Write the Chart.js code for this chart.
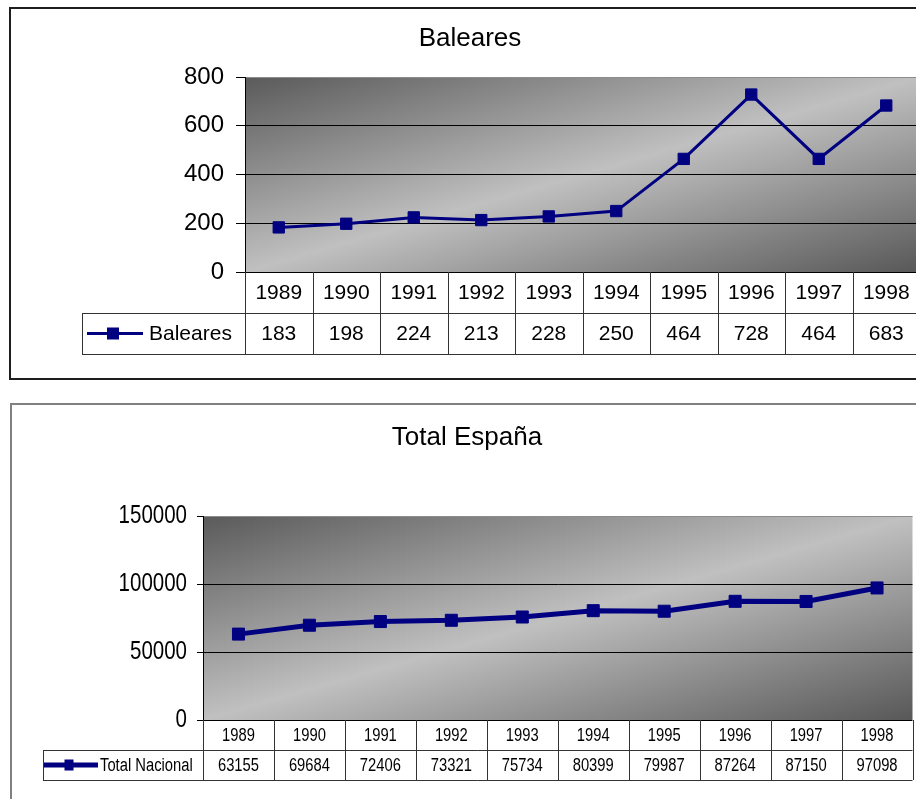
<!DOCTYPE html>
<html>
<head>
<meta charset="utf-8">
<script src="https://cdn.jsdelivr.net/npm/chart.js@4/dist/chart.umd.min.js"></script>
<style>
  body { margin: 0; background: #fff; overflow: hidden; width: 916px; height: 799px; position: relative; }
  .marco { position: absolute; box-sizing: border-box; background: #fff; }
  #marcoBal { left: 9px; top: 7px; width: 1000px; height: 373px; border: 2px solid #1e1e1e; }
  #marcoEsp { left: 10px; top: 403px; width: 1000px; height: 430px; border: 2px solid #808080; }
  canvas { display: block; }
</style>
</head>
<body>
<div class="marco" id="marcoBal"><canvas id="grafBal" width="918" height="369"></canvas></div>
<div class="marco" id="marcoEsp"><canvas id="grafEsp" width="910" height="394"></canvas></div>
<script>
// Datos
const anios = ['1989', '1990', '1991', '1992', '1993', '1994', '1995', '1996', '1997', '1998'];
const baleares = [183, 198, 224, 213, 228, 250, 464, 728, 464, 683];
const totalNacional = [63155, 69684, 72406, 73321, 75734, 80399, 79987, 87264, 87150, 97098];
const ticksBal = [0, 200, 400, 600, 800];
const ticksEsp = [0, 50000, 100000, 150000];

const AZUL = '#000080';
// el título usa la familia con "Arial"; el resto del texto estrecho usa la otra
const ARIAL = '"Liberation Sans", Arial, sans-serif';
const ESTRECHA = '"Liberation Sans", sans-serif';

// Fondo gris degradado (oscuro en las esquinas, claro en la diagonal)
const fondoDegradado = {
    id: 'fondoDegradado',
    beforeDraw(chart) {
        const {ctx, chartArea: a} = chart;
        const w = a.right - a.left;
        const h = a.bottom - a.top;
        const k = 2 * w * h / (w * w + h * h);
        const g = ctx.createLinearGradient(a.left, a.top, a.left + h * k, a.top + w * k);
        g.addColorStop(0, '#5a5a5a');
        g.addColorStop(0.5, '#c0c0c0');
        g.addColorStop(1, '#585858');
        ctx.save();
        ctx.fillStyle = g;
        ctx.fillRect(a.left, a.top, w, h);
        ctx.restore();
    }
};

// Comprime el texto en horizontal (tipo Arial Narrow) salvo el título
const textoEstrecho = factor => ({
    id: 'textoEstrecho',
    beforeInit(chart) {
        const ctx = chart.ctx;
        const original = ctx.fillText;
        ctx.fillText = function (texto, x, y, maxW) {
            if (this.font.indexOf('Arial') >= 0) {
                return original.call(this, texto, x, y, maxW);
            }
            this.save();
            this.translate(x, y);
            this.scale(factor, 1);
            original.call(this, texto, 0, 0);
            this.restore();
        };
    }
});

// Tabla de datos bajo el eje X, con la leyenda en la primera celda
const tablaDatos = {
    id: 'tablaDatos',
    afterDraw(chart, args, opts) {
        const {ctx, chartArea: a, scales: {x}} = chart;
        const ds = chart.data.datasets[0];
        const n = chart.data.labels.length;
        const ancho = (a.right - a.left) / n;
        const y0 = Math.round(a.bottom);
        const y1 = y0 + opts.altoFila;
        const y2 = y1 + opts.altoFila;
        const ley = opts.leyenda;

        ctx.save();
        ctx.strokeStyle = opts.colorLinea;
        ctx.lineWidth = 1;
        ctx.beginPath();
        ctx.moveTo(ley.izq, y1 + 0.5);
        ctx.lineTo(a.right, y1 + 0.5);
        ctx.moveTo(ley.izq, y2 + 0.5);
        ctx.lineTo(a.right, y2 + 0.5);
        ctx.moveTo(ley.izq + 0.5, y1);
        ctx.lineTo(ley.izq + 0.5, y2);
        for (let i = 0; i <= n; i++) {
            const xb = Math.round(x.getPixelForValue(0) - ancho / 2 + i * ancho) + 0.5;
            ctx.moveTo(xb, y0);
            ctx.lineTo(xb, y2);
        }
        ctx.stroke();

        // textos de años y valores
        ctx.fillStyle = '#000';
        ctx.font = opts.fuente;
        ctx.textAlign = 'center';
        ctx.textBaseline = 'middle';
        chart.data.labels.forEach((lab, i) => {
            const xc = x.getPixelForValue(i);
            ctx.fillText(lab, xc, (y0 + y1) / 2 + 1);
            ctx.fillText(String(ds.data[i]), xc, (y1 + y2) / 2 + 1);
        });

        // leyenda: línea con marcador cuadrado y nombre de la serie
        const ym = (y1 + y2) / 2;
        ctx.strokeStyle = ds.borderColor;
        ctx.lineWidth = ley.grosor;
        ctx.beginPath();
        ctx.moveTo(ley.x1, ym);
        ctx.lineTo(ley.x2, ym);
        ctx.stroke();
        ctx.fillStyle = ds.borderColor;
        ctx.fillRect(ley.xm - ley.ancho / 2, ym - ley.alto / 2, ley.ancho, ley.alto);
        ctx.fillStyle = '#000';
        ctx.textAlign = 'left';
        ctx.fillText(ds.label, ley.xt, ym + 1);
        ctx.restore();
    }
};

function crearGrafico(id, cfg) {
    return new Chart(document.getElementById(id), {
        type: 'line',
        data: {
            labels: anios,
            datasets: [{
                label: cfg.serie,
                data: cfg.valores,
                borderColor: AZUL,
                backgroundColor: AZUL,
                borderWidth: cfg.grosor,
                tension: 0,
                pointStyle: 'rect',
                pointRadius: cfg.radio,
                pointBackgroundColor: AZUL,
                pointBorderColor: AZUL,
                pointBorderWidth: 1
            }]
        },
        options: {
            responsive: false,
            animation: false,
            layout: {padding: 0},
            plugins: {
                legend: {display: false},
                tooltip: {enabled: false},
                title: {
                    display: true,
                    text: cfg.titulo,
                    color: '#000',
                    font: {family: ARIAL, size: 26, weight: 'normal'},
                    padding: cfg.paddingTitulo
                },
                tablaDatos: cfg.tabla
            },
            scales: {
                x: {
                    type: 'category',
                    offset: true,
                    ticks: {display: false},
                    grid: {display: false},
                    border: {display: false},
                    afterFit: s => { s.height = cfg.altoEjeX; }
                },
                y: {
                    min: cfg.ticks[0],
                    max: cfg.ticks[cfg.ticks.length - 1],
                    afterBuildTicks: s => { s.ticks = cfg.ticks.map(v => ({value: v})); },
                    ticks: {
                        color: '#000',
                        padding: cfg.paddingTicks,
                        font: {family: cfg.fuenteEje, size: cfg.tamEje},
                        callback: v => String(v)
                    },
                    grid: {
                        color: c => c.tick && c.tick.value === cfg.ticks[cfg.ticks.length - 1] ? '#8c8c8c' : '#000',
                        tickColor: '#000',
                        tickLength: cfg.largoTick,
                        lineWidth: 1
                    },
                    border: {display: true, color: '#000', width: 1},
                    afterFit: s => { s.width = cfg.anchoEjeY; }
                }
            }
        },
        plugins: [fondoDegradado, tablaDatos, textoEstrecho(cfg.estrechez)]
    });
}

crearGrafico('grafBal', {
    titulo: 'Baleares',
    serie: 'Baleares',
    valores: baleares,
    ticks: ticksBal,
    grosor: 3,
    radio: 8,
    paddingTitulo: {top: 14, bottom: 22.8},
    anchoEjeY: 234,
    altoEjeX: 106,
    largoTick: 9,
    paddingTicks: 12,
    fuenteEje: ARIAL,
    tamEje: 24,
    estrechez: 1,
    tabla: {
        altoFila: 41,
        colorLinea: '#333',
        fuente: '21px ' + ARIAL,
        leyenda: {izq: 71, x1: 76, x2: 132, xm: 102, xt: 138, ancho: 12, alto: 12, grosor: 3}
    }
});

crearGrafico('grafEsp', {
    titulo: 'Total España',
    serie: 'Total Nacional',
    valores: totalNacional,
    ticks: ticksEsp,
    grosor: 5,
    radio: 8.5,
    paddingTitulo: {top: 17, bottom: 62.8},
    anchoEjeY: 191,
    altoEjeX: 79,
    largoTick: 6,
    paddingTicks: 10,
    fuenteEje: ESTRECHA,
    tamEje: 25,
    estrechez: 0.82,
    tabla: {
        altoFila: 30,
        colorLinea: '#333',
        fuente: '18px ' + ESTRECHA,
        leyenda: {izq: 31, x1: 32, x2: 86, xm: 57, xt: 88, ancho: 9, alto: 11, grosor: 5}
    }
});
</script>
</body>
</html>
